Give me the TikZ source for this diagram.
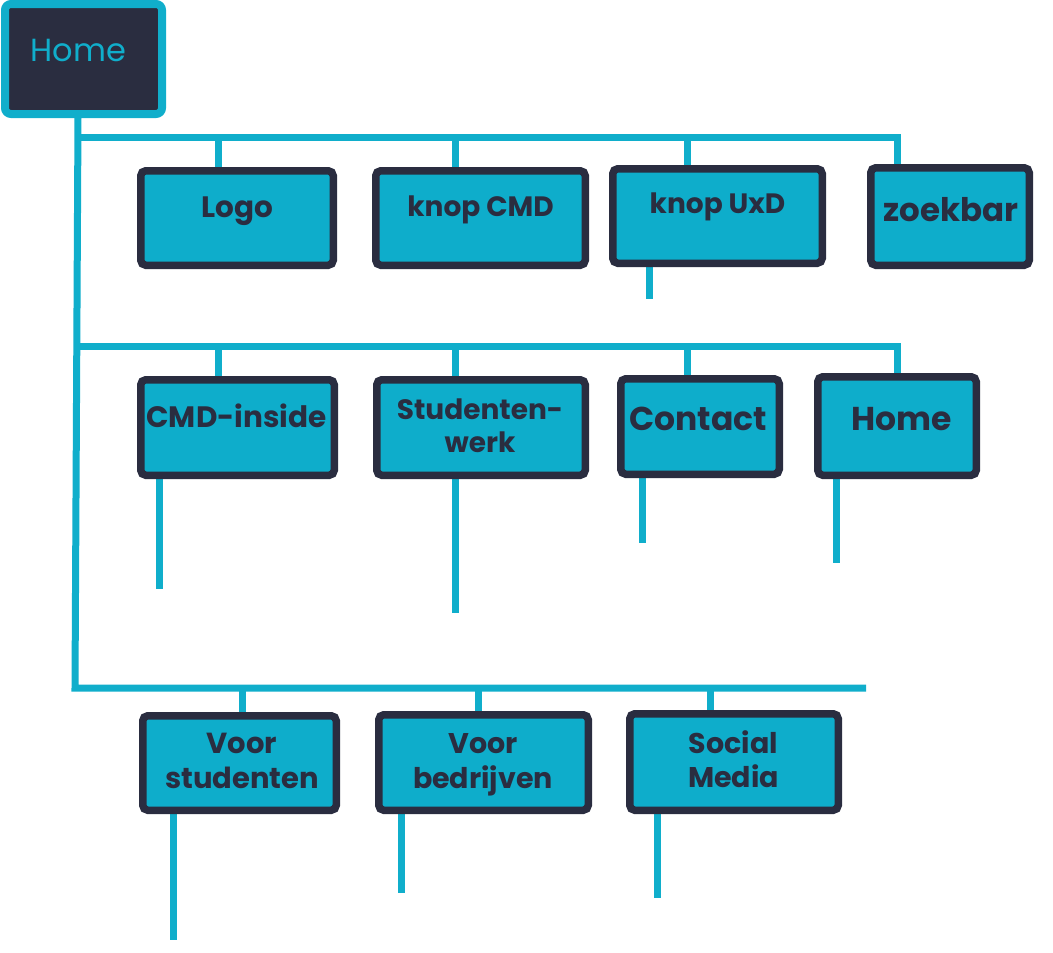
\documentclass[tikz,border=0pt]{standalone}
\usepackage{fontspec}
\setmainfont{Poppins}
\usetikzlibrary{backgrounds}
\definecolor{cyanB}{HTML}{0EADCB}
\definecolor{lineC}{HTML}{10AECB}
\definecolor{darkB}{HTML}{2A2D40}
\tikzset{
  box/.style={draw=darkB, fill=cyanB, line width=7.5pt, rounded corners=5pt, inner sep=0pt},
  topbox/.style={draw=lineC, fill=darkB, line width=8pt, rounded corners=6pt, inner sep=0pt},
  lbl/.style={text=darkB, font=\fontsize{28.5}{35}\selectfont\bfseries, inner sep=0pt, anchor=base},
  conn/.style={draw=lineC, line width=7pt, line join=miter}
}
\newcommand{\twol}[2]{\begin{tabular}[t]{@{}c@{}}#1\\#2\end{tabular}}
\begin{document}
\begin{tikzpicture}[x=1pt,y=-1pt]
\useasboundingbox (0,0) rectangle (1053,953);
% boxes
\node[topbox, minimum width=157pt, minimum height=110pt] (home) at (83.5,59) {};
\node[text=lineC, font=\fontsize{32}{38}\selectfont, inner sep=0pt, anchor=base] (homet) at (78.5,61) {Home};

\node[box, minimum width=192.5pt, minimum height=94.5pt] (logo) at (237,218) {};
\node[box, minimum width=209.5pt, minimum height=94.5pt] (kcmd) at (480.5,218) {};
\node[box, minimum width=209.5pt, minimum height=94.5pt] (kuxd) at (717.5,216) {};
\node[box, minimum width=158.5pt, minimum height=97.5pt] (zoek) at (950,216.5) {};

\node[box, minimum width=193.5pt, minimum height=95.5pt] (cmdin) at (237.5,427.5) {};
\node[box, minimum width=208.5pt, minimum height=95.5pt] (stud) at (481,427.5) {};
\node[box, minimum width=158.5pt, minimum height=95.5pt] (contact) at (700,426.5) {};
\node[box, minimum width=158.5pt, minimum height=98.5pt] (home2) at (897,426) {};

\node[box, minimum width=193.5pt, minimum height=94.5pt] (vstud) at (239.5,763) {};
\node[box, minimum width=209.5pt, minimum height=95.5pt] (vbed) at (483.5,762.5) {};
\node[box, minimum width=208.5pt, minimum height=96.5pt] (social) at (734,762) {};

% labels
\node[lbl, font=\fontsize{29.5}{35}\selectfont\bfseries] (logot) at (237.5,217) {Logo};
\node[lbl, font=\fontsize{28}{35}\selectfont\bfseries] (kcmdt) at (480.5,216) {knop CMD};
\node[lbl, font=\fontsize{28}{35}\selectfont\bfseries] (kuxdt) at (717.5,213) {knop UxD};
\node[lbl, font=\fontsize{32.5}{38}\selectfont\bfseries] (zoekt) at (951,221) {zoekbar};
\node[lbl, font=\fontsize{29.5}{35}\selectfont\bfseries] (cmdint) at (236.5,427) {CMD-inside};
\node[lbl, font=\fontsize{28}{33}\selectfont\bfseries] (studt) at (480,419) {\twol{Studenten-}{werk}};
\node[lbl, font=\fontsize{33}{38}\selectfont\bfseries] (contactt) at (698,430) {Contact};
\node[lbl, font=\fontsize{33}{38}\selectfont\bfseries] (home2t) at (901.5,430) {Home};
\node[lbl, font=\fontsize{29}{35}\selectfont\bfseries] (vstudt) at (242,753) {\twol{Voor}{studenten}};
\node[lbl] (vbedt) at (483,753) {\twol{Voor}{bedrijven}};
\node[lbl, font=\fontsize{28.5}{34}\selectfont\bfseries] (socialt) at (733.5,753) {\twol{Social}{Media}};

% connectors
\begin{scope}[on background layer]
\coordinate (t0) at (78,100);
\coordinate (t3) at (75,688);
\coordinate (h3e) at (866,688);
\draw[conn] (home.south -| t0) -- (t3) -- (h3e);
% row 1
\coordinate (h1a) at (78,137);
\coordinate (d1) at (218,137);
\coordinate (d2) at (455,137);
\coordinate (d3) at (687,137);
\coordinate (d4) at (897,137);
\draw[conn] (h1a) -- (d4) -- (d4 |- zoek.north);
\draw[conn] (d1) -- (d1 |- logo.north);
\draw[conn] (d2) -- (d2 |- kcmd.north);
\draw[conn] (d3) -- (d3 |- kuxd.north);
% row 2
\coordinate (h2a) at (78,346);
\coordinate (e1) at (218,346);
\coordinate (e2) at (455,346);
\coordinate (e3) at (687,346);
\coordinate (e4) at (897,346);
\draw[conn] (h2a) -- (e4) -- (e4 |- home2.north);
\draw[conn] (e1) -- (e1 |- cmdin.north);
\draw[conn] (e2) -- (e2 |- stud.north);
\draw[conn] (e3) -- (e3 |- contact.north);
% row 3
\coordinate (f1) at (242,688);
\coordinate (f2) at (478,688);
\coordinate (f3) at (710,688);
\draw[conn] (f1) -- (f1 |- vstud.north);
\draw[conn] (f2) -- (f2 |- vbed.north);
\draw[conn] (f3) -- (f3 |- social.north);
% stubs
\coordinate (s1) at (649,299);
\coordinate (s2) at (159,589);
\coordinate (s3) at (455,613);
\coordinate (s4) at (642,543);
\coordinate (s5) at (836,563);
\coordinate (s6) at (173,940);
\coordinate (s7) at (401,893);
\coordinate (s8) at (657,898);
\draw[conn] (kuxd.south -| s1) -- (s1);
\draw[conn] (cmdin.south -| s2) -- (s2);
\draw[conn] (stud.south -| s3) -- (s3);
\draw[conn] (contact.south -| s4) -- (s4);
\draw[conn] (home2.south -| s5) -- (s5);
\draw[conn] (vstud.south -| s6) -- (s6);
\draw[conn] (vbed.south -| s7) -- (s7);
\draw[conn] (social.south -| s8) -- (s8);
\end{scope}
\end{tikzpicture}
\end{document}
